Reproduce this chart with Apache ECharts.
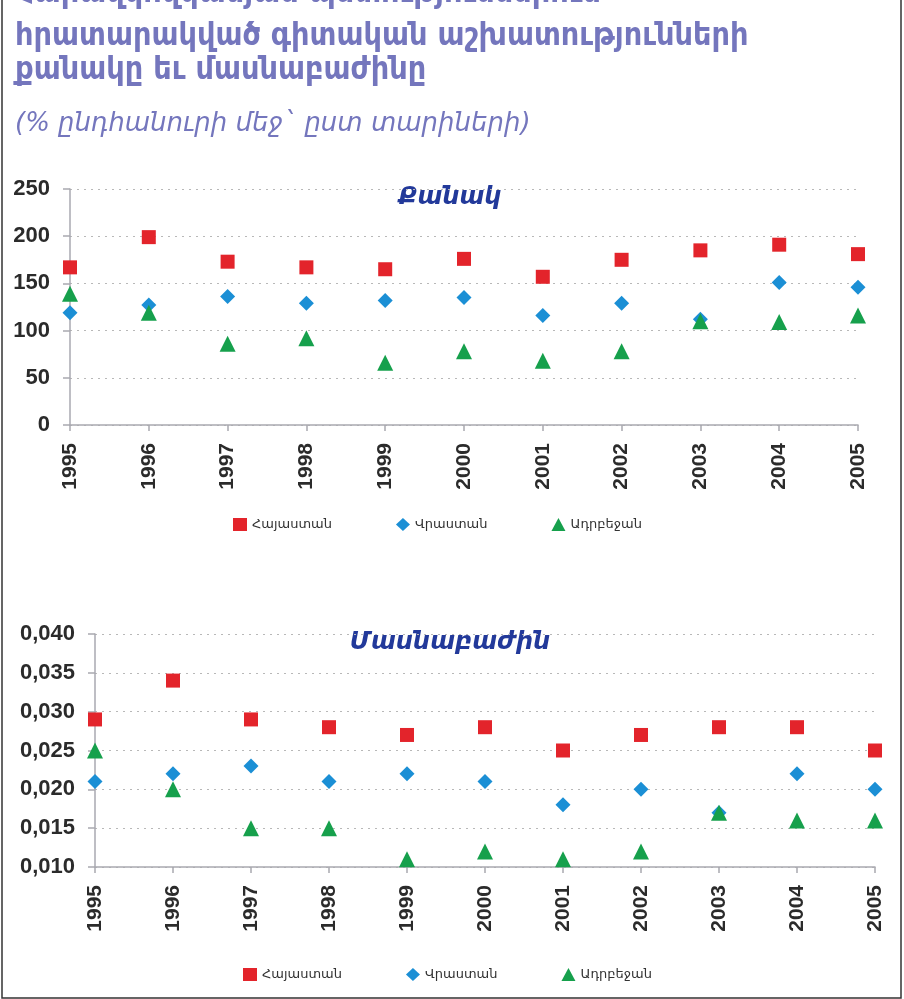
<!DOCTYPE html>
<html>
<head>
<meta charset="utf-8">
<script src="https://cdn.jsdelivr.net/npm/echarts@6/dist/echarts.min.js"></script>
<style>
html,body{margin:0;padding:0;background:#fff;}
#c{width:904px;height:999px;}
</style>
</head>
<body>
<div id="c"></div>
<script>
// ---- data ----
const years = ['1995','1996','1997','1998','1999','2000','2001','2002','2003','2004','2005'];
const seriesNames = ['Հայաստան','Վրաստան','Ադրբեջան'];
// Chart 1: number (Քանակ)
const countArmenia    = [167, 199, 173, 167, 165, 176, 157, 175, 185, 191, 181];
const countGeorgia    = [119, 127, 136, 129, 132, 135, 116, 129, 112, 151, 146];
const countAzerbaijan = [139, 119, 86, 92, 66, 78, 68, 78, 110, 109, 116];
// Chart 2: share (Մասնաբաժին)
const shareArmenia    = [0.029, 0.034, 0.029, 0.028, 0.027, 0.028, 0.025, 0.027, 0.028, 0.028, 0.025];
const shareGeorgia    = [0.021, 0.022, 0.023, 0.021, 0.022, 0.021, 0.018, 0.020, 0.017, 0.022, 0.020];
const shareAzerbaijan = [0.025, 0.020, 0.015, 0.015, 0.011, 0.012, 0.011, 0.012, 0.017, 0.016, 0.016];
// ticks
const countTicks = {min: 0, max: 250, interval: 50};
const shareTicks = {min: 0.010, max: 0.040, interval: 0.005};
// titles
const titleLines = ['Հարավկովկասյան պետություններում', 'հրատարակված գիտական աշխատությունների', 'քանակը եւ մասնաբաժինը'];
const subTitle = '(% ընդհանուրի մեջ` ըստ տարիների)';
const chart1Title = 'Քանակ';
const chart2Title = 'Մասնաբաժին';

// ---- styles ----
const colors = ['#e3242b', '#1b8fd5', '#16a04c'];
const symbols = ['rect', 'diamond', 'triangle'];
const symSizes = [14, 15, 16];
const numFont = 'Liberation Sans, Arial, sans-serif';
const armFont = 'DejaVu Sans, sans-serif';
const armCond = '"DejaVu Sans Condensed", "DejaVu Sans", sans-serif';

function xAxis(gi) {
  return {
    type: 'category', gridIndex: gi, data: years, boundaryGap: false,
    axisLine: {show: true, lineStyle: {color: '#a9a9b0', width: 1.5}},
    axisTick: {show: true, length: 6, lineStyle: {color: '#a9a9b0', width: 1.5}},
    axisLabel: {rotate: 90, margin: 18, fontFamily: numFont, fontWeight: 'bold', fontSize: 21, color: '#2b2b2b'},
    splitLine: {show: false}
  };
}
function yAxis(gi, t, fmt) {
  return {
    type: 'value', gridIndex: gi, min: t.min, max: t.max, interval: t.interval,
    axisLine: {show: true, lineStyle: {color: '#a9a9b0', width: 1.5}},
    axisTick: {show: true, length: 7, lineStyle: {color: '#a9a9b0', width: 1.5}},
    axisLabel: {margin: 20, fontFamily: numFont, fontWeight: 'bold', fontSize: 22, color: '#2b2b2b', formatter: fmt},
    splitLine: {show: true, lineStyle: {type: [2, 5], color: '#b8b8b8', width: 1.2}}
  };
}
function scatter(name, i, gi, data) {
  return {
    type: 'scatter', name: name, xAxisIndex: gi, yAxisIndex: gi, data: data,
    symbol: symbols[i], symbolSize: symSizes[i], itemStyle: {color: colors[i], opacity: 1},
    clip: false, z: 3 + (i === 2 ? 1 : 0)
  };
}
function legend(top, left) {
  return {
    top: top, left: left, itemGap: 64, itemWidth: 14, itemHeight: 13,
    data: seriesNames.map((n, i) => ({name: n, icon: symbols[i]})),
    textStyle: {fontFamily: armFont, fontSize: 13, color: '#333'},
    selectedMode: false
  };
}

const chart = echarts.init(document.getElementById('c'), null, {renderer: 'canvas'});
const titleColor = '#7476bd';
chart.setOption({
  backgroundColor: '#ffffff',
  animation: false,
  color: colors,
  graphic: [
    {type: 'rect', shape: {x: 2, y: -5, width: 899, height: 1003}, style: {fill: 'none', stroke: '#333', lineWidth: 1.5}, z: 10},
    {type: 'text', x: 15, y: -22, style: {text: titleLines[0], font: 'bold 32px ' + armCond, fill: titleColor}},
    {type: 'text', x: 15, y: 21, style: {text: titleLines[1], font: 'bold 32px ' + armCond, fill: titleColor}},
    {type: 'text', x: 15, y: 55, style: {text: titleLines[2], font: 'bold 32px ' + armCond, fill: titleColor}},
    {type: 'text', x: 15, y: 111, style: {text: subTitle, font: 'italic 26px ' + armFont, fill: titleColor}},
    {type: 'text', x: 450, y: 198, style: {text: chart1Title, font: 'italic bold 24px ' + armFont, fill: '#22399a', align: 'center', verticalAlign: 'middle'}},
    {type: 'text', x: 450, y: 643, style: {text: chart2Title, font: 'italic bold 24px ' + armFont, fill: '#22399a', align: 'center', verticalAlign: 'middle'}}
  ],
  grid: [
    {left: 70, right: 46, top: 189, height: 236},
    {left: 95, right: 29, top: 634, height: 233}
  ],
  legend: [legend(513, 228), legend(963, 238)],
  xAxis: [xAxis(0), xAxis(1)],
  yAxis: [
    yAxis(0, countTicks, v => String(v)),
    yAxis(1, shareTicks, v => v.toFixed(3).replace('.', ','))
  ],
  series: [
    scatter(seriesNames[0], 0, 0, countArmenia),
    scatter(seriesNames[1], 1, 0, countGeorgia),
    scatter(seriesNames[2], 2, 0, countAzerbaijan),
    scatter(seriesNames[0], 0, 1, shareArmenia),
    scatter(seriesNames[1], 1, 1, shareGeorgia),
    scatter(seriesNames[2], 2, 1, shareAzerbaijan)
  ]
});
</script>
</body>
</html>
